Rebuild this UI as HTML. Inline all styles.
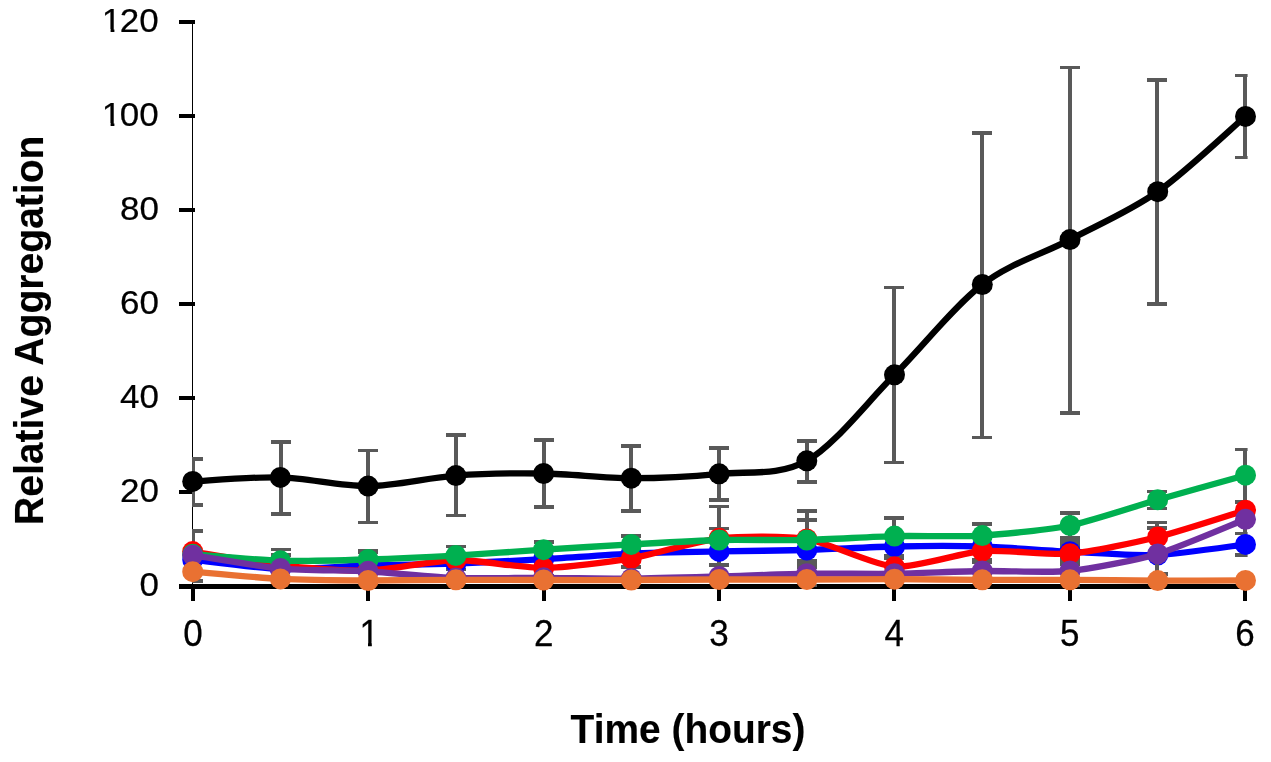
<!DOCTYPE html>
<html lang="en"><head><meta charset="utf-8"><title>Relative Aggregation vs Time</title>
<style>html,body{margin:0;padding:0;background:#fff}body{width:1271px;height:762px;overflow:hidden}</style></head>
<body>
<svg width="1271" height="762" viewBox="0 0 1271 762" style="display:block" shape-rendering="crispEdges">
<defs><clipPath id="pc"><rect x="192" y="0" width="1055.6" height="600"/></clipPath></defs>
<rect width="1271" height="762" fill="#fff"/>
<rect x="192" y="22" width="1" height="565" fill="#000"/>
<rect x="179" y="584.4" width="16" height="4" fill="#000"/>
<rect x="179" y="490.4" width="16" height="4" fill="#000"/>
<rect x="179" y="396.4" width="16" height="4" fill="#000"/>
<rect x="179" y="302.4" width="16" height="4" fill="#000"/>
<rect x="179" y="208.4" width="16" height="4" fill="#000"/>
<rect x="179" y="114.4" width="16" height="4" fill="#000"/>
<rect x="179" y="20.4" width="16" height="4" fill="#000"/>
<rect x="179" y="584" width="1068" height="5" fill="#000"/>
<rect x="191.0" y="584" width="4" height="16.5" fill="#000"/>
<rect x="366.3" y="584" width="4" height="16.5" fill="#000"/>
<rect x="541.7" y="584" width="4" height="16.5" fill="#000"/>
<rect x="717.0" y="584" width="4" height="16.5" fill="#000"/>
<rect x="892.3" y="584" width="4" height="16.5" fill="#000"/>
<rect x="1067.7" y="584" width="4" height="16.5" fill="#000"/>
<rect x="1243.0" y="584" width="4" height="16.5" fill="#000"/>
<g clip-path="url(#pc)" fill="#595959">
<rect x="191.0" y="459.0" width="4" height="46.0"/>
<rect x="183.0" y="457.25" width="20" height="3.5"/>
<rect x="183.0" y="503.25" width="20" height="3.5"/>
<rect x="278.7" y="442.0" width="4" height="71.9"/>
<rect x="270.7" y="440.25" width="20" height="3.5"/>
<rect x="270.7" y="512.15" width="20" height="3.5"/>
<rect x="366.3" y="450.4" width="4" height="71.9"/>
<rect x="358.3" y="448.65" width="20" height="3.5"/>
<rect x="358.3" y="520.55" width="20" height="3.5"/>
<rect x="454.0" y="434.9" width="4" height="80.8"/>
<rect x="446.0" y="433.15" width="20" height="3.5"/>
<rect x="446.0" y="513.95" width="20" height="3.5"/>
<rect x="541.7" y="439.9" width="4" height="66.9"/>
<rect x="533.7" y="438.15" width="20" height="3.5"/>
<rect x="533.7" y="505.05" width="20" height="3.5"/>
<rect x="629.3" y="446.2" width="4" height="64.8"/>
<rect x="621.3" y="444.45" width="20" height="3.5"/>
<rect x="621.3" y="509.25" width="20" height="3.5"/>
<rect x="717.0" y="448.0" width="4" height="52.0"/>
<rect x="709.0" y="446.25" width="20" height="3.5"/>
<rect x="709.0" y="498.25" width="20" height="3.5"/>
<rect x="804.7" y="441.2" width="4" height="40.6"/>
<rect x="796.7" y="439.45" width="20" height="3.5"/>
<rect x="796.7" y="480.05" width="20" height="3.5"/>
<rect x="892.3" y="287.4" width="4" height="175.0"/>
<rect x="884.3" y="285.65" width="20" height="3.5"/>
<rect x="884.3" y="460.65" width="20" height="3.5"/>
<rect x="980.0" y="133.0" width="4" height="304.7"/>
<rect x="972.0" y="131.25" width="20" height="3.5"/>
<rect x="972.0" y="435.95" width="20" height="3.5"/>
<rect x="1067.7" y="67.5" width="4" height="345.3"/>
<rect x="1059.7" y="65.75" width="20" height="3.5"/>
<rect x="1059.7" y="411.05" width="20" height="3.5"/>
<rect x="1155.3" y="80.0" width="4" height="224.1"/>
<rect x="1147.3" y="78.25" width="20" height="3.5"/>
<rect x="1147.3" y="302.35" width="20" height="3.5"/>
<rect x="1243.0" y="75.6" width="4" height="81.7"/>
<rect x="1235.0" y="73.85" width="20" height="3.5"/>
<rect x="1235.0" y="155.55" width="20" height="3.5"/>
</g>
<path d="M192.65 481.40 C206.54 480.77 252.60 476.66 280.38 477.40 C308.17 478.14 340.34 486.38 368.12 486.10 C395.90 485.82 428.07 477.60 455.86 475.60 C483.64 473.61 515.81 473.09 543.59 473.50 C571.37 473.91 603.54 478.15 631.33 478.20 C659.11 478.25 691.28 476.56 719.06 473.80 C746.84 471.05 779.01 476.48 806.79 460.80 C834.58 445.12 866.75 402.71 894.53 374.80 C922.31 346.89 954.48 305.91 982.26 284.50 C1010.05 263.09 1042.22 254.29 1070.00 239.60 C1097.78 224.91 1129.95 211.21 1157.74 191.70 C1185.52 172.19 1231.58 128.32 1245.47 116.40" fill="none" stroke="#000000" stroke-width="6.3" stroke-linejoin="round" shape-rendering="auto"/>
<g fill="#000000" shape-rendering="auto">
<circle cx="192.7" cy="481.4" r="10.5"/>
<circle cx="280.4" cy="477.4" r="10.5"/>
<circle cx="368.1" cy="486.1" r="10.5"/>
<circle cx="455.9" cy="475.6" r="10.5"/>
<circle cx="543.6" cy="473.5" r="10.5"/>
<circle cx="631.3" cy="478.2" r="10.5"/>
<circle cx="719.1" cy="473.8" r="10.5"/>
<circle cx="806.8" cy="460.8" r="10.5"/>
<circle cx="894.5" cy="374.8" r="10.5"/>
<circle cx="982.3" cy="284.5" r="10.5"/>
<circle cx="1070.0" cy="239.6" r="10.5"/>
<circle cx="1157.7" cy="191.7" r="10.5"/>
<circle cx="1245.5" cy="116.4" r="10.5"/>
</g>
<g clip-path="url(#pc)" fill="#595959">
<rect x="191.0" y="531.0" width="4" height="50.0"/>
<rect x="183.0" y="529.25" width="20" height="3.5"/>
<rect x="183.0" y="579.25" width="20" height="3.5"/>
<rect x="454.0" y="546.3" width="4" height="23.2"/>
<rect x="446.0" y="544.55" width="20" height="3.5"/>
<rect x="446.0" y="567.75" width="20" height="3.5"/>
<rect x="541.7" y="542.2" width="4" height="33.8"/>
<rect x="533.7" y="540.45" width="20" height="3.5"/>
<rect x="533.7" y="574.25" width="20" height="3.5"/>
<rect x="629.3" y="536.2" width="4" height="30.8"/>
<rect x="621.3" y="534.45" width="20" height="3.5"/>
<rect x="621.3" y="565.25" width="20" height="3.5"/>
<rect x="717.0" y="528.6" width="4" height="36.2"/>
<rect x="709.0" y="526.85" width="20" height="3.5"/>
<rect x="709.0" y="563.05" width="20" height="3.5"/>
<rect x="804.7" y="511.0" width="4" height="74.5"/>
<rect x="796.7" y="509.25" width="20" height="3.5"/>
<rect x="796.7" y="518.25" width="20" height="3.5"/>
<rect x="796.7" y="559.25" width="20" height="3.5"/>
<rect x="796.7" y="562.25" width="20" height="3.5"/>
<rect x="796.7" y="565.65" width="20" height="3.5"/>
<rect x="892.3" y="518.0" width="4" height="39.8"/>
<rect x="884.3" y="516.25" width="20" height="3.5"/>
<rect x="884.3" y="553.75" width="20" height="3.5"/>
<rect x="884.3" y="556.05" width="20" height="3.5"/>
<rect x="980.0" y="524.0" width="4" height="38.0"/>
<rect x="972.0" y="522.25" width="20" height="3.5"/>
<rect x="972.0" y="558.25" width="20" height="3.5"/>
<rect x="972.0" y="560.25" width="20" height="3.5"/>
<rect x="1067.7" y="513.1" width="4" height="61.9"/>
<rect x="1059.7" y="511.35" width="20" height="3.5"/>
<rect x="1059.7" y="536.25" width="20" height="3.5"/>
<rect x="1059.7" y="540.25" width="20" height="3.5"/>
<rect x="1059.7" y="544.25" width="20" height="3.5"/>
<rect x="1059.7" y="548.25" width="20" height="3.5"/>
<rect x="1059.7" y="552.25" width="20" height="3.5"/>
<rect x="1059.7" y="556.25" width="20" height="3.5"/>
<rect x="1059.7" y="560.25" width="20" height="3.5"/>
<rect x="1059.7" y="562.95" width="20" height="3.5"/>
<rect x="1243.0" y="449.3" width="4" height="105.7"/>
<rect x="1235.0" y="447.55" width="20" height="3.5"/>
<rect x="1235.0" y="500.25" width="20" height="3.5"/>
<rect x="1235.0" y="531.75" width="20" height="3.5"/>
<rect x="1235.0" y="553.25" width="20" height="3.5"/>
</g>
<path d="M192.65 559.70 C202.89 560.79 259.91 568.32 280.38 569.00 C300.86 569.68 347.65 566.14 368.12 565.50 C388.59 564.86 435.38 564.24 455.86 563.50 C476.33 562.76 523.12 560.36 543.59 559.20 C564.06 558.05 610.85 554.51 631.33 553.60 C651.80 552.69 698.59 551.82 719.06 551.40 C739.53 550.98 786.32 550.57 806.79 550.00 C827.27 549.43 874.06 546.91 894.53 546.50 C915.00 546.09 961.79 545.89 982.26 546.50 C1002.74 547.11 1049.53 550.71 1070.00 551.70 C1090.47 552.69 1137.26 555.85 1157.74 555.00 C1178.21 554.15 1235.23 545.64 1245.47 544.40" fill="none" stroke="#0000FF" stroke-width="6.3" stroke-linejoin="round" shape-rendering="auto"/>
<g fill="#0000FF" shape-rendering="auto">
<circle cx="192.7" cy="559.7" r="10.5"/>
<circle cx="280.4" cy="569.0" r="10.5"/>
<circle cx="368.1" cy="565.5" r="10.5"/>
<circle cx="455.9" cy="563.5" r="10.5"/>
<circle cx="543.6" cy="559.2" r="10.5"/>
<circle cx="631.3" cy="553.6" r="10.5"/>
<circle cx="719.1" cy="551.4" r="10.5"/>
<circle cx="806.8" cy="550.0" r="10.5"/>
<circle cx="894.5" cy="546.5" r="10.5"/>
<circle cx="982.3" cy="546.5" r="10.5"/>
<circle cx="1070.0" cy="551.7" r="10.5"/>
<circle cx="1157.7" cy="555.0" r="10.5"/>
<circle cx="1245.5" cy="544.4" r="10.5"/>
</g>
<g clip-path="url(#pc)" fill="#595959">
<rect x="717.0" y="506.5" width="4" height="31.5"/>
<rect x="709.0" y="504.75" width="20" height="3.5"/>
<rect x="1155.3" y="522.7" width="4" height="51.3"/>
<rect x="1147.3" y="520.95" width="20" height="3.5"/>
<rect x="1147.3" y="526.05" width="20" height="3.5"/>
</g>
<path d="M192.65 551.60 C202.89 553.22 259.91 563.28 280.38 565.50 C300.86 567.72 347.65 571.24 368.12 570.60 C388.59 569.96 435.38 560.30 455.86 560.00 C476.33 559.70 523.12 568.19 543.59 568.00 C564.06 567.81 610.85 561.87 631.33 558.40 C651.80 554.93 698.59 540.56 719.06 538.30 C739.53 536.04 786.32 535.67 806.79 539.00 C827.27 542.33 874.06 565.40 894.53 566.80 C915.00 568.20 961.79 552.53 982.26 551.00 C1002.74 549.47 1049.53 555.33 1070.00 553.70 C1090.47 552.07 1137.26 542.08 1157.74 537.00 C1178.21 531.92 1235.23 513.33 1245.47 510.20" fill="none" stroke="#FF0000" stroke-width="6.3" stroke-linejoin="round" shape-rendering="auto"/>
<g fill="#FF0000" shape-rendering="auto">
<circle cx="192.7" cy="551.6" r="10.5"/>
<circle cx="280.4" cy="565.5" r="10.5"/>
<circle cx="368.1" cy="570.6" r="10.5"/>
<circle cx="455.9" cy="560.0" r="10.5"/>
<circle cx="543.6" cy="568.0" r="10.5"/>
<circle cx="631.3" cy="558.4" r="10.5"/>
<circle cx="719.1" cy="538.3" r="10.5"/>
<circle cx="806.8" cy="539.0" r="10.5"/>
<circle cx="894.5" cy="566.8" r="10.5"/>
<circle cx="982.3" cy="551.0" r="10.5"/>
<circle cx="1070.0" cy="553.7" r="10.5"/>
<circle cx="1157.7" cy="537.0" r="10.5"/>
<circle cx="1245.5" cy="510.2" r="10.5"/>
</g>
<g clip-path="url(#pc)" fill="#595959">
<rect x="278.7" y="549.6" width="4" height="16.4"/>
<rect x="270.7" y="547.85" width="20" height="3.5"/>
<rect x="270.7" y="553.45" width="20" height="3.5"/>
<rect x="366.3" y="551.5" width="4" height="14.5"/>
<rect x="358.3" y="549.45" width="20" height="3.5"/>
<rect x="358.3" y="550.15" width="20" height="3.5"/>
<rect x="1155.3" y="491.5" width="4" height="17.1"/>
<rect x="1147.3" y="489.75" width="20" height="3.5"/>
<rect x="1147.3" y="506.85" width="20" height="3.5"/>
</g>
<path d="M192.65 554.20 C202.89 554.97 259.91 560.18 280.38 560.80 C300.86 561.42 347.65 560.11 368.12 559.50 C388.59 558.89 435.38 556.74 455.86 555.60 C476.33 554.46 523.12 551.01 543.59 549.70 C564.06 548.39 610.85 545.53 631.33 544.40 C651.80 543.27 698.59 540.51 719.06 540.00 C739.53 539.49 786.32 540.46 806.79 540.00 C827.27 539.54 874.06 536.61 894.53 536.10 C915.00 535.59 961.79 536.84 982.26 535.60 C1002.74 534.36 1049.53 529.69 1070.00 525.50 C1090.47 521.31 1137.26 505.57 1157.74 499.70 C1178.21 493.83 1235.23 478.06 1245.47 475.20" fill="none" stroke="#00B050" stroke-width="6.3" stroke-linejoin="round" shape-rendering="auto"/>
<g fill="#00B050" shape-rendering="auto">
<circle cx="192.7" cy="554.2" r="10.5"/>
<circle cx="280.4" cy="560.8" r="10.5"/>
<circle cx="368.1" cy="559.5" r="10.5"/>
<circle cx="455.9" cy="555.6" r="10.5"/>
<circle cx="543.6" cy="549.7" r="10.5"/>
<circle cx="631.3" cy="544.4" r="10.5"/>
<circle cx="719.1" cy="540.0" r="10.5"/>
<circle cx="806.8" cy="540.0" r="10.5"/>
<circle cx="894.5" cy="536.1" r="10.5"/>
<circle cx="982.3" cy="535.6" r="10.5"/>
<circle cx="1070.0" cy="525.5" r="10.5"/>
<circle cx="1157.7" cy="499.7" r="10.5"/>
<circle cx="1245.5" cy="475.2" r="10.5"/>
</g>
<g clip-path="url(#pc)" fill="#595959">
</g>
<path d="M192.65 555.20 C202.89 556.76 259.91 566.72 280.38 568.60 C300.86 570.48 347.65 570.20 368.12 571.30 C388.59 572.40 435.38 577.24 455.86 578.00 C476.33 578.76 523.12 577.73 543.59 577.80 C564.06 577.87 610.85 578.75 631.33 578.60 C651.80 578.45 698.59 577.07 719.06 576.50 C739.53 575.93 786.32 574.03 806.79 573.70 C827.27 573.37 874.06 574.02 894.53 573.70 C915.00 573.38 961.79 571.32 982.26 571.00 C1002.74 570.68 1049.53 573.00 1070.00 571.00 C1090.47 569.00 1137.26 559.93 1157.74 553.90 C1178.21 547.87 1235.23 523.34 1245.47 519.30" fill="none" stroke="#7030A0" stroke-width="6.3" stroke-linejoin="round" shape-rendering="auto"/>
<g fill="#7030A0" shape-rendering="auto">
<circle cx="192.7" cy="555.2" r="10.5"/>
<circle cx="280.4" cy="568.6" r="10.5"/>
<circle cx="368.1" cy="571.3" r="10.5"/>
<circle cx="455.9" cy="578.0" r="10.5"/>
<circle cx="543.6" cy="577.8" r="10.5"/>
<circle cx="631.3" cy="578.6" r="10.5"/>
<circle cx="719.1" cy="576.5" r="10.5"/>
<circle cx="806.8" cy="573.7" r="10.5"/>
<circle cx="894.5" cy="573.7" r="10.5"/>
<circle cx="982.3" cy="571.0" r="10.5"/>
<circle cx="1070.0" cy="571.0" r="10.5"/>
<circle cx="1157.7" cy="553.9" r="10.5"/>
<circle cx="1245.5" cy="519.3" r="10.5"/>
</g>
<g clip-path="url(#pc)" fill="#595959">
</g>
<path d="M192.65 571.70 C202.89 572.54 259.91 577.87 280.38 578.90 C300.86 579.93 347.65 580.39 368.12 580.50 C388.59 580.61 435.38 579.86 455.86 579.80 C476.33 579.74 523.12 579.98 543.59 580.00 C564.06 580.02 610.85 580.06 631.33 580.00 C651.80 579.94 698.59 579.56 719.06 579.50 C739.53 579.44 786.32 579.53 806.79 579.50 C827.27 579.47 874.06 579.17 894.53 579.20 C915.00 579.24 961.79 579.73 982.26 579.80 C1002.74 579.87 1049.53 579.71 1070.00 579.80 C1090.47 579.89 1137.26 580.53 1157.74 580.60 C1178.21 580.67 1235.23 580.42 1245.47 580.40" fill="none" stroke="#E97132" stroke-width="6.3" stroke-linejoin="round" shape-rendering="auto"/>
<rect x="806.7" y="583.8" width="10.5" height="3.6" fill="#595959"/>
<rect x="1069.7" y="583.8" width="10.5" height="3.6" fill="#595959"/>
<rect x="1157.3" y="572.3" width="10.5" height="3.6" fill="#595959"/>
<g fill="#E97132" shape-rendering="auto">
<circle cx="192.7" cy="571.7" r="10.5"/>
<circle cx="280.4" cy="578.9" r="10.5"/>
<circle cx="368.1" cy="580.5" r="10.5"/>
<circle cx="455.9" cy="579.8" r="10.5"/>
<circle cx="543.6" cy="580.0" r="10.5"/>
<circle cx="631.3" cy="580.0" r="10.5"/>
<circle cx="719.1" cy="579.5" r="10.5"/>
<circle cx="806.8" cy="579.5" r="10.5"/>
<circle cx="894.5" cy="579.2" r="10.5"/>
<circle cx="982.3" cy="579.8" r="10.5"/>
<circle cx="1070.0" cy="579.8" r="10.5"/>
<circle cx="1157.7" cy="580.6" r="10.5"/>
<circle cx="1245.5" cy="580.4" r="10.5"/>
</g>
<text transform="translate(159.00 596.10) scale(1 0.925)" text-anchor="end" font-size="35"  font-family="Liberation Sans, Arial, sans-serif" fill="#000" stroke="#000" stroke-width="0.25">0</text>
<text transform="translate(159.00 502.10) scale(1 0.925)" text-anchor="end" font-size="35"  font-family="Liberation Sans, Arial, sans-serif" fill="#000" stroke="#000" stroke-width="0.25">20</text>
<text transform="translate(159.00 408.10) scale(1 0.925)" text-anchor="end" font-size="35"  font-family="Liberation Sans, Arial, sans-serif" fill="#000" stroke="#000" stroke-width="0.25">40</text>
<text transform="translate(159.00 314.10) scale(1 0.925)" text-anchor="end" font-size="35"  font-family="Liberation Sans, Arial, sans-serif" fill="#000" stroke="#000" stroke-width="0.25">60</text>
<text transform="translate(159.00 220.10) scale(1 0.925)" text-anchor="end" font-size="35"  font-family="Liberation Sans, Arial, sans-serif" fill="#000" stroke="#000" stroke-width="0.25">80</text>
<clipPath id="c1"><rect x="121.0" y="86.1" width="60.0" height="60.0"/><rect x="90.0" y="86.1" width="31.0" height="36.9"/><rect x="110.6" y="122.9" width="3.8" height="5.0"/></clipPath><g clip-path="url(#c1)"><text transform="translate(157.20 126.10) scale(1 0.925)" text-anchor="end" font-size="35"  font-family="Liberation Sans, Arial, sans-serif" fill="#000" stroke="#000" stroke-width="0.25"><tspan dx="1.5">1</tspan><tspan dx="-1.5">00</tspan></text></g>
<clipPath id="c2"><rect x="121.0" y="-7.9" width="60.0" height="60.0"/><rect x="90.0" y="-7.9" width="31.0" height="36.9"/><rect x="110.6" y="28.9" width="3.8" height="5.0"/></clipPath><g clip-path="url(#c2)"><text transform="translate(157.20 32.10) scale(1 0.925)" text-anchor="end" font-size="35"  font-family="Liberation Sans, Arial, sans-serif" fill="#000" stroke="#000" stroke-width="0.25"><tspan dx="1.5">1</tspan><tspan dx="-1.5">20</tspan></text></g>
<text transform="translate(193.00 646.00) scale(1 1.060)" text-anchor="middle" font-size="35"  font-family="Liberation Sans, Arial, sans-serif" fill="#000" stroke="#000" stroke-width="0.25">0</text>
<clipPath id="c3"><rect x="345.0" y="600.0" width="50.0" height="42.6"/><rect x="368.0" y="642.5" width="3.8" height="6.0"/></clipPath><g clip-path="url(#c3)"><text transform="translate(369.13 646.00) scale(1 1.060)" text-anchor="middle" font-size="35"  font-family="Liberation Sans, Arial, sans-serif" fill="#000" stroke="#000" stroke-width="0.25">1</text></g>
<text transform="translate(543.66 646.00) scale(1 1.060)" text-anchor="middle" font-size="35"  font-family="Liberation Sans, Arial, sans-serif" fill="#000" stroke="#000" stroke-width="0.25">2</text>
<text transform="translate(718.99 646.00) scale(1 1.060)" text-anchor="middle" font-size="35"  font-family="Liberation Sans, Arial, sans-serif" fill="#000" stroke="#000" stroke-width="0.25">3</text>
<text transform="translate(894.32 646.00) scale(1 1.060)" text-anchor="middle" font-size="35"  font-family="Liberation Sans, Arial, sans-serif" fill="#000" stroke="#000" stroke-width="0.25">4</text>
<text transform="translate(1069.65 646.00) scale(1 1.060)" text-anchor="middle" font-size="35"  font-family="Liberation Sans, Arial, sans-serif" fill="#000" stroke="#000" stroke-width="0.25">5</text>
<text transform="translate(1244.98 646.00) scale(1 1.060)" text-anchor="middle" font-size="35"  font-family="Liberation Sans, Arial, sans-serif" fill="#000" stroke="#000" stroke-width="0.25">6</text>
<text transform="translate(688.00 742.90) scale(1 1.053)" text-anchor="middle" font-size="38.9" font-weight="bold" font-family="Liberation Sans, Arial, sans-serif" fill="#000" stroke="#000" stroke-width="0.10">Time (hours)</text>
<text transform="translate(43.30 330.30) rotate(-90) scale(1 1.055)" text-anchor="middle" font-size="39.1" font-weight="bold" font-family="Liberation Sans, Arial, sans-serif" fill="#000" stroke="#000" stroke-width="0.10">Relative Aggregation</text>
</svg>
</body></html>
